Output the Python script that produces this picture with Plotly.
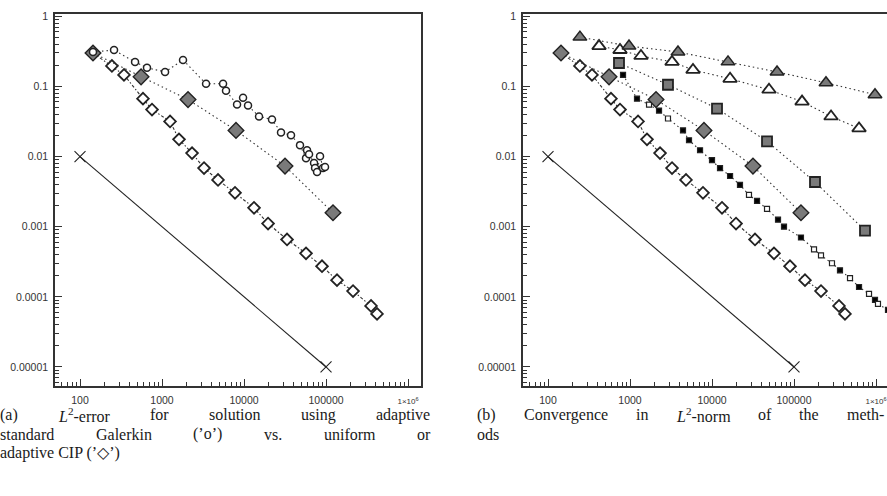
import plotly.graph_objects as go

# ---------------- data (DOFs, L2 error) ----------------
ref_x = [100, 100000]
ref_y = [0.01, 0.00001]

galerkin_x = [144, 260, 469, 656, 1089, 1803, 3443, 5550, 6030, 8220, 9730, 11190,
              15240, 21930, 28250, 37400, 48160, 57000, 58660, 62070, 71400, 73500,
              77700, 84500, 91900, 97200]
galerkin_y = [0.31, 0.33, 0.223, 0.184, 0.161, 0.239, 0.109, 0.109, 0.0869, 0.0551,
              0.0692, 0.0533, 0.0373, 0.0338, 0.0221, 0.0201, 0.0145, 0.0095, 0.0123,
              0.0108, 0.00807, 0.00686, 0.00601, 0.0101, 0.00686, 0.00708]

cip_unif_x = [144, 555, 2075, 7980, 31600, 121600]
cip_unif_y = [0.300, 0.137, 0.0649, 0.0236, 0.00731, 0.00158]

cip_adapt_x = [144, 245, 344, 586, 755, 1253, 1611, 2323, 3253, 4818, 7763, 13240,
               19630, 33440, 57000, 89300, 136100, 213400, 353800, 418800]
cip_adapt_y = [0.300, 0.196, 0.146, 0.0670, 0.0468, 0.0317, 0.0176, 0.0112, 0.00686,
               0.00464, 0.00304, 0.00186, 0.00111, 0.000657, 0.000417, 0.000273,
               0.000173, 0.000121, 0.0000741, 0.0000571]

sq_x = [734, 2904, 11510, 46870, 180300, 734000]
sq_y = [0.216, 0.1057, 0.0484, 0.0165, 0.00434, 0.000881]

tri_fill_x = [245, 972, 3846, 15670, 62070, 245500, 972000]
tri_fill_y = [0.505, 0.376, 0.310, 0.224, 0.161, 0.1128, 0.0763]

tri_open_x = [419, 755, 1361, 3253, 5864, 16600, 49550, 125300, 282700, 620700]
tri_open_y = [0.376, 0.331, 0.272, 0.224, 0.172, 0.1285, 0.0898, 0.0608, 0.0373, 0.0252]

small_x = [822, 1217, 1706, 2259, 2904, 4429, 5242, 7145, 10000, 12520, 16600, 21930,
           28250, 35400, 46870, 63830, 75500, 121600, 175400, 213400, 290400, 363700,
           481900, 620700, 822000, 972000, 1057000, 1400000]
small_y = [0.146, 0.0670, 0.0551, 0.0453, 0.0349, 0.0236, 0.0171, 0.0123, 0.00889,
           0.00686, 0.00528, 0.00394, 0.00284, 0.00234, 0.00180, 0.00126, 0.00100,
           0.000701, 0.000474, 0.000390, 0.000301, 0.000239, 0.000185, 0.000138,
           0.000110, 0.0000902, 0.0000791, 0.000065]
small_open = [0, 0, 1, 0, 1, 0, 0, 0, 0, 0, 0, 0, 1, 0, 1, 0, 0, 0, 1, 1, 1, 0, 1, 0,
              1, 0, 1, 0]

xtick_vals = [100, 1000, 10000, 100000, 1000000]
xtick_text = ["100", "1000", "10000", "100000",
              "<span style='font-size:8px'>1×10<sup>6</sup></span>"]
ytick_vals = [1, 0.1, 0.01, 0.001, 0.0001, 0.00001]
ytick_text = ["1", "0.1", "0.01", "0.001", "0.0001", "0.00001"]

caption_a = [["(a)", "<i>L</i><sup>2</sup>-error", "for", "solution", "using", "adaptive"],
             ["standard", "Galerkin", "(’o’)", "vs.", "uniform", "or"],
             ["adaptive CIP (’◇’)"]]
caption_b = [["(b)", "Convergence", "in", "<i>L</i><sup>2</sup>-norm", "of", "the", "meth-"],
             ["ods"]]

# ---------------- styles ----------------
INK = "#222222"
GRAY = "#7a7a7a"
DOT = "1.5px,3px"
DASHDOT = "3px,2px,1.5px,2px"

fig = go.Figure()


def add(x, y, xa, ya, symbol, size, fill, lw=1.6, dash=DOT, lcolor="#333333", lwidth=1.1):
    fig.add_trace(go.Scatter(
        x=x, y=y, xaxis=xa, yaxis=ya, mode="lines+markers",
        line=dict(color=lcolor, width=lwidth, dash=dash),
        marker=dict(symbol=symbol, size=size, color=fill,
                    line=dict(color=INK, width=lw)),
        showlegend=False, cliponaxis=True))


def add_ref(xa, ya):
    fig.add_trace(go.Scatter(
        x=ref_x, y=ref_y, xaxis=xa, yaxis=ya, mode="lines+markers",
        line=dict(color=INK, width=1.1),
        marker=dict(symbol="x-thin", size=11, line=dict(color=INK, width=1.1)),
        showlegend=False))


# left panel
add_ref("x", "y")
add(cip_adapt_x, cip_adapt_y, "x", "y", "diamond", 9, "white", lw=1.8, dash=DASHDOT)
add(cip_unif_x, cip_unif_y, "x", "y", "diamond", 12, GRAY, lw=1.4)
add(galerkin_x, galerkin_y, "x", "y", "circle", 7, "white", lw=1.5)

# right panel
add_ref("x2", "y2")
add(cip_adapt_x, cip_adapt_y, "x2", "y2", "diamond", 9, "white", lw=1.8, dash=DASHDOT)
add(small_x, small_y, "x2", "y2", "square", 5,
    ["white" if o else "black" for o in small_open], lw=1.2)
add(cip_unif_x, cip_unif_y, "x2", "y2", "diamond", 12, GRAY, lw=1.4)
add(sq_x, sq_y, "x2", "y2", "square", 10, GRAY, lw=1.8)
add(tri_open_x, tri_open_y, "x2", "y2", "triangle-up", 12, "white", lw=1.8)
add(tri_fill_x, tri_fill_y, "x2", "y2", "triangle-up", 12, GRAY, lw=1.5)

W, H = 887, 496
tickfont = dict(family="Liberation Sans, Arial, sans-serif", size=10.5, color="#333333")

minor_x = [m * 10 ** e for e in range(1, 7) for m in range(2, 10)]
minor_y = [m * 10.0 ** e for e in range(-6, 1) for m in range(2, 10)]


def xaxis_cfg(domain, rng, mirror, anchor):
    return dict(type="log", domain=domain, range=rng, anchor=anchor, showgrid=False,
                zeroline=False, showline=True, linecolor="#333333", linewidth=1.6,
                mirror=mirror, ticks="inside", ticklen=7, tickwidth=1.2,
                tickcolor="#333333", tickmode="array", tickvals=xtick_vals,
                ticktext=xtick_text, tickfont=tickfont, ticklabelstandoff=4,
                minor=dict(ticks="inside", ticklen=4, tickwidth=1, tickcolor="#333333",
                           tickmode="array", tickvals=minor_x, showgrid=False))


def yaxis_cfg(domain, rng, anchor, mirror):
    return dict(type="log", domain=domain, range=rng, anchor=anchor, showgrid=False,
                zeroline=False, showline=True, linecolor="#333333", linewidth=1.6,
                mirror=mirror, ticks="inside", ticklen=7, tickwidth=1.2,
                tickcolor="#333333", tickmode="array", tickvals=ytick_vals,
                ticktext=ytick_text, tickfont=tickfont, ticklabelstandoff=3,
                minor=dict(ticks="inside", ticklen=4, tickwidth=1, tickcolor="#333333",
                           tickmode="array", tickvals=minor_y, showgrid=False))


ydom = [(H - 385) / H, (H - 10) / H]
yr = [-5.27, 0.034]

fig.update_layout(
    width=W, height=H, margin=dict(l=0, r=0, t=0, b=0),
    paper_bgcolor="white", plot_bgcolor="white",
    xaxis=xaxis_cfg([55 / W, 421 / W], [1.695, 6.158], True, "y"),
    yaxis=yaxis_cfg(ydom, yr, "x", True),
    xaxis2=xaxis_cfg([523 / W, 1.0], [1.695, 1.695 + (887 - 523) / 82], True, "y2"),
    yaxis2=yaxis_cfg(ydom, yr, "x2", False),
)

# ---------------- captions (justified by per-word placement) ----------------
CAP_SIZE = 16
capfont = dict(family="Liberation Serif, Times New Roman, serif", size=CAP_SIZE,
               color="#1a1a1a")
TIMES = {"(": .333, ")": .333, "a": .444, "b": .5, "c": .444, "d": .5, "e": .444,
         "f": .333, "g": .5, "h": .5, "i": .278, "k": .5, "l": .278, "m": .778,
         "n": .5, "o": .5, "p": .5, "r": .333, "s": .389, "t": .278, "u": .5,
         "v": .5, "-": .333, ".": .25, "’": .333, "C": .667, "G": .722, "I": .333,
         "P": .556, "L": .556, "2": .35, " ": .25, "◇": .6}


def word_width(w):
    plain = w.replace("<i>", "").replace("</i>", "").replace("<sup>", "").replace("</sup>", "")
    return sum(TIMES.get(c, .5) for c in plain) * CAP_SIZE


def cap_line(words, x0, x1, y, justify=True):
    if justify and len(words) > 1:
        total = sum(word_width(w) for w in words)
        gap = (x1 - x0 - total) / (len(words) - 1)
    else:
        gap = 0.25 * CAP_SIZE
    x = x0
    for w in words:
        fig.add_annotation(x=x / W, y=1 - y / H, xref="paper", yref="paper",
                           text=w, showarrow=False, xanchor="left", yanchor="middle",
                           xshift=-2, font=capfont)
        x += word_width(w) + gap


LINE0, LEAD = 414, 19.5
for i, words in enumerate(caption_a):
    cap_line(words, 0, 430, LINE0 + i * LEAD, justify=i < 2)
for i, words in enumerate(caption_b):
    cap_line(words, 477, 884, LINE0 + i * LEAD, justify=i < 1)

fig.write_html("out.html")
